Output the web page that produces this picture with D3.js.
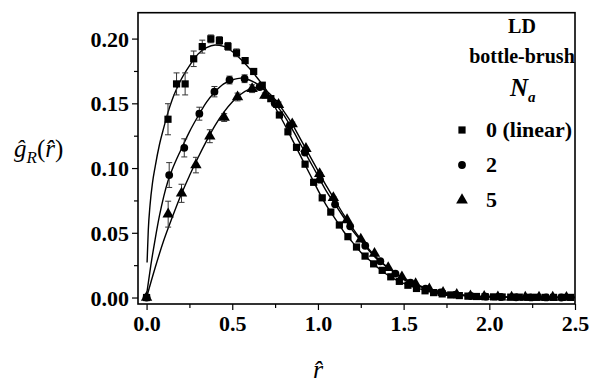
<!DOCTYPE html>
<html>
<head>
<meta charset="utf-8">
<script src="https://cdn.jsdelivr.net/npm/d3@7"></script>
<style>
  html, body { margin: 0; padding: 0; background: #fff; }
  svg { display: block; }
  svg text { font-family: "Liberation Serif", Tinos, "DejaVu Serif", serif; fill: #000; }
</style>
</head>
<body>
<svg id="chart" width="592" height="389"></svg>
<script>
// ---- data -------------------------------------------------------------
// Na = 0 (linear)
const rSquare = [0, 0.125, 0.175, 0.225, 0.275, 0.325, 0.375, 0.425, 0.475, 0.525, 0.575, 0.625, 0.675,
  0.725, 0.775, 0.825, 0.875, 0.925, 0.975, 1.025, 1.075, 1.125, 1.175, 1.225, 1.275, 1.325, 1.375,
  1.425, 1.475, 1.525, 1.575, 1.625, 1.675, 1.725, 1.775, 1.825, 1.875, 1.925, 1.975, 2.025, 2.075,
  2.125, 2.175, 2.225, 2.275, 2.325, 2.375, 2.425, 2.475];
const gSquare = [0, 0.1377, 0.165, 0.165, 0.1844, 0.1938, 0.1998, 0.1985, 0.194, 0.189, 0.183, 0.1746, 0.164,
  0.1536, 0.141, 0.128, 0.116, 0.103, 0.089, 0.077, 0.066, 0.056, 0.047, 0.039, 0.032, 0.026, 0.021,
  0.016, 0.0125, 0.0095, 0.007, 0.0052, 0.0038, 0.0028, 0.002, 0.0015, 0.0011, 0.0008, 0.0006, 0.0005, 0.0004,
  0.0003, 0.0003, 0.0002, 0.0002, 0.0001, 0.0001, 0.0001, 0.0001];
const eSquare = [0, 0.012, 0.0085, 0.0085, 0.006, 0.005, 0.003, 0.003, 0.003, 0.003, 0.002, 0.002, 0.002,
  0.002, 0.0015, 0.0015, 0.001, 0.001, 0.001, 0.001, 0.001, 0.001, 0, 0, 0, 0, 0,
  0, 0, 0, 0, 0, 0, 0, 0, 0, 0, 0, 0, 0, 0, 0, 0, 0, 0, 0, 0, 0, 0];

// Na = 2
const rCircle = [0, 0.132, 0.22, 0.308, 0.396, 0.484, 0.572, 0.66, 0.748, 0.836, 0.924, 1.012, 1.1, 1.188,
  1.276, 1.364, 1.452, 1.54, 1.628, 1.716, 1.804, 1.892, 1.98, 2.068, 2.156, 2.244, 2.332, 2.42];
const gCircle = [0, 0.0946, 0.1156, 0.142, 0.159, 0.168, 0.169, 0.1626, 0.15, 0.133, 0.112, 0.091, 0.072, 0.055,
  0.04, 0.028, 0.0185, 0.0115, 0.0068, 0.004, 0.0022, 0.0012, 0.0007, 0.0004, 0.0002, 0.0001, 0.0001, 0];
const eCircle = [0, 0.0096, 0.007, 0.005, 0.004, 0.003, 0.003, 0.002, 0.002, 0.0015, 0.001, 0.001, 0.001, 0,
  0, 0, 0, 0, 0, 0, 0, 0, 0, 0, 0, 0, 0, 0];

// Na = 5
const rTriangle = [0, 0.126, 0.204, 0.288, 0.369, 0.453, 0.531, 0.616, 0.69, 0.77, 0.85, 0.93, 1.01, 1.09,
  1.17, 1.25, 1.33, 1.41, 1.49, 1.57, 1.65, 1.73, 1.81, 1.89, 1.97, 2.05, 2.13, 2.21, 2.29, 2.37, 2.45];
const gTriangle = [0, 0.0644, 0.0805, 0.1023, 0.1246, 0.139, 0.1549, 0.1613, 0.156, 0.149, 0.134, 0.115, 0.0956, 0.077,
  0.06, 0.045, 0.034, 0.023, 0.0158, 0.0105, 0.0065, 0.0038, 0.0022, 0.0012, 0.0007, 0.0004, 0.0002, 0.0001, 0.0001, 0.0001, 0];
const eTriangle = [0, 0.01, 0.007, 0.006, 0.005, 0.003, 0.003, 0.003, 0.002, 0.002, 0.0015, 0.001, 0.001, 0.001,
  0, 0, 0, 0, 0, 0, 0, 0, 0, 0, 0, 0, 0, 0, 0, 0, 0];

// fitted curves
const rFitSquare = [0.003, 0.01, 0.02, 0.035, 0.05, 0.075, 0.1, 0.125, 0.15, 0.175, 0.2, 0.25, 0.3, 0.35, 0.4,
  0.45, 0.5, 0.55, 0.6, 0.65, 0.7, 0.75, 0.8, 0.85, 0.9, 0.95, 1.0, 1.05, 1.1, 1.15, 1.2, 1.25, 1.3, 1.35,
  1.4, 1.45, 1.5, 1.6, 1.7, 1.8, 1.9, 2.0, 2.2, 2.5];
const gFitSquare = [0.027, 0.052, 0.071, 0.089, 0.101, 0.118, 0.131, 0.143, 0.153, 0.161, 0.168, 0.179, 0.188, 0.193, 0.195,
  0.194, 0.19, 0.184, 0.177, 0.169, 0.16, 0.147, 0.135, 0.122, 0.109, 0.096, 0.083, 0.071, 0.061, 0.051, 0.043, 0.035, 0.029, 0.023,
  0.018, 0.014, 0.011, 0.0065, 0.0036, 0.0019, 0.001, 0.0006, 0.0002, 0.0001];

const rFitCircle = [0, 0.025, 0.05, 0.075, 0.1, 0.125, 0.15, 0.2, 0.25, 0.3, 0.35, 0.4, 0.45, 0.5, 0.55, 0.6,
  0.65, 0.7, 0.75, 0.8, 0.85, 0.9, 0.95, 1.0, 1.05, 1.1, 1.15, 1.2, 1.25, 1.3, 1.35, 1.4, 1.45, 1.5, 1.6,
  1.7, 1.8, 1.9, 2.0, 2.2, 2.5];
const gFitCircle = [0.002, 0.025, 0.045, 0.063, 0.078, 0.09, 0.099, 0.114, 0.128, 0.14, 0.151, 0.159, 0.165, 0.168, 0.1695, 0.168,
  0.1645, 0.1585, 0.15, 0.141, 0.13, 0.118, 0.106, 0.094, 0.082, 0.072, 0.062, 0.052, 0.044, 0.036, 0.029, 0.024, 0.019, 0.014, 0.0082,
  0.0045, 0.0023, 0.0011, 0.0006, 0.0002, 0];

const rFitTriangle = [0, 0.05, 0.1, 0.15, 0.2, 0.25, 0.3, 0.35, 0.4, 0.45, 0.5, 0.55, 0.6, 0.65, 0.7, 0.75,
  0.8, 0.85, 0.9, 0.95, 1.0, 1.05, 1.1, 1.15, 1.2, 1.25, 1.3, 1.35, 1.4, 1.45, 1.5, 1.6, 1.7, 1.8, 1.9, 2.0, 2.2, 2.5];
const gFitTriangle = [0, 0.023, 0.044, 0.062, 0.079, 0.094, 0.108, 0.121, 0.133, 0.143, 0.151, 0.157, 0.161, 0.1625, 0.1595, 0.153,
  0.144, 0.134, 0.122, 0.11, 0.098, 0.086, 0.075, 0.064, 0.054, 0.045, 0.037, 0.03, 0.024, 0.019, 0.015, 0.0088, 0.0048, 0.0025, 0.0013, 0.0007, 0.0002, 0];

const xTicks = [0, 0.5, 1.0, 1.5, 2.0, 2.5];
const xMinorTicks = [0.25, 0.75, 1.25, 1.75, 2.25];
const yTicks = [0, 0.05, 0.10, 0.15, 0.20];
const yMinorTicks = [0.025, 0.075, 0.125, 0.175];
const legendLabels = ["0 (linear)", "2", "5"];

// ---- layout -----------------------------------------------------------
const SERIF = "'Liberation Serif', Tinos, 'DejaVu Serif', serif";
const svg = d3.select("#chart");
const plotLeft = 138, plotRight = 575, plotTop = 12.7, plotBottom = 304;

const x = d3.scaleLinear().domain([-0.05, 2.5]).range([plotLeft, plotRight]);
const y = d3.scaleLinear().domain([-0.005, 0.22]).range([plotBottom, plotTop]);

// axes
const fmtX = d3.format(".1f"), fmtY = d3.format(".2f");
const xAxis = svg.append("g").attr("transform", `translate(0,${plotBottom})`)
  .call(d3.axisBottom(x).tickValues(xTicks).tickSize(6).tickPadding(5).tickFormat(fmtX));
const xMinor = svg.append("g").attr("transform", `translate(0,${plotBottom})`)
  .call(d3.axisBottom(x).tickValues(xMinorTicks).tickSize(4).tickFormat(""));
const yAxis = svg.append("g").attr("transform", `translate(${plotLeft},0)`)
  .call(d3.axisLeft(y).tickValues(yTicks).tickSize(6).tickPadding(3).tickFormat(fmtY));
const yMinor = svg.append("g").attr("transform", `translate(${plotLeft},0)`)
  .call(d3.axisLeft(y).tickValues(yMinorTicks).tickSize(4).tickFormat(""));

[xAxis, xMinor, yAxis, yMinor].forEach(g => {
  g.attr("font-family", SERIF).attr("font-size", 22);
  g.select(".domain").remove();
  g.selectAll(".tick line").attr("stroke", "#000").attr("stroke-width", 1.2);
  g.selectAll(".tick text")
    .style("font-family", SERIF)
    .attr("font-weight", "bold").attr("font-size", 22).attr("fill", "#000");
});
yAxis.selectAll(".tick text").attr("dy", "0.34em");

// frame
svg.append("rect")
  .attr("x", plotLeft).attr("y", plotTop).attr("width", plotRight - plotLeft).attr("height", plotBottom - plotTop)
  .attr("fill", "none").attr("stroke", "#000").attr("stroke-width", 1.6);

const plot = svg.append("g");

// fitted curves
const line = d3.line().x(d => x(d[0])).y(d => y(d[1])).curve(d3.curveMonotoneX);
[[rFitSquare, gFitSquare], [rFitCircle, gFitCircle], [rFitTriangle, gFitTriangle]].forEach(([rs, gs]) => {
  plot.append("path")
    .datum(d3.zip(rs, gs))
    .attr("d", line)
    .attr("fill", "none").attr("stroke", "#000").attr("stroke-width", 1.4);
});

// data series with error bars
const series = [
  { r: rSquare, g: gSquare, e: eSquare, sym: d3.symbolSquare, size: 52 },
  { r: rCircle, g: gCircle, e: eCircle, sym: d3.symbolCircle, size: 48 },
  { r: rTriangle, g: gTriangle, e: eTriangle, sym: d3.symbolTriangle, size: 56 }
];

series.forEach(s => {
  const pts = d3.zip(s.r, s.g, s.e);
  const eb = plot.append("g").attr("stroke", "#333").attr("stroke-width", 1);
  pts.filter(p => p[2] > 0).forEach(([r, g, e]) => {
    const cx = x(r), y1 = y(g - e), y2 = y(g + e);
    eb.append("line").attr("x1", cx).attr("x2", cx).attr("y1", y1).attr("y2", y2);
    eb.append("line").attr("x1", cx - 3).attr("x2", cx + 3).attr("y1", y1).attr("y2", y1);
    eb.append("line").attr("x1", cx - 3).attr("x2", cx + 3).attr("y1", y2).attr("y2", y2);
  });
  plot.append("g").selectAll("path").data(pts).join("path")
    .attr("transform", d => `translate(${x(d[0])},${y(d[1])})`)
    .attr("d", d3.symbol().type(s.sym).size(s.size))
    .attr("fill", "#000");
});

// legend
const lg = svg.append("g").style("font-family", SERIF);
lg.append("text").attr("x", 522).attr("y", 33).attr("text-anchor", "middle")
  .attr("font-weight", "bold").attr("font-size", 20).text("LD");
lg.append("text").attr("x", 522).attr("y", 63).attr("text-anchor", "middle")
  .attr("font-weight", "bold").attr("font-size", 20).text("bottle-brush");
const na = lg.append("text").attr("x", 510).attr("y", 96)
  .attr("font-weight", "bold").attr("font-style", "italic").attr("font-size", 25);
na.append("tspan").text("N");
na.append("tspan").attr("font-size", 15).attr("dy", 6).text("a");

const legSyms = [d3.symbolSquare, d3.symbolCircle, d3.symbolTriangle];
const legSizes = [52, 48, 60];
legendLabels.forEach((lab, i) => {
  const yy = 130 + i * 35;
  lg.append("path").attr("transform", `translate(462,${yy})`)
    .attr("d", d3.symbol().type(legSyms[i]).size(legSizes[i])).attr("fill", "#000");
  lg.append("text").attr("x", 486).attr("y", yy + 7)
    .attr("font-weight", "bold").attr("font-size", 22).text(lab);
});

// axis titles
const yt = svg.append("text").style("font-family", SERIF)
  .attr("x", 14).attr("y", 157).attr("font-size", 25);
yt.append("tspan").attr("font-style", "italic").text("ĝ");
yt.append("tspan").attr("font-style", "italic").attr("font-size", 17).attr("dy", 6).text("R");
yt.append("tspan").attr("dy", -6).text("(");
yt.append("tspan").attr("font-style", "italic").text("r\u0302");
yt.append("tspan").text(")");

svg.append("text").style("font-family", SERIF)
  .attr("x", 318).attr("y", 378).attr("text-anchor", "middle")
  .attr("font-style", "italic").attr("font-size", 26).text("r\u0302");
</script>
</body>
</html>
